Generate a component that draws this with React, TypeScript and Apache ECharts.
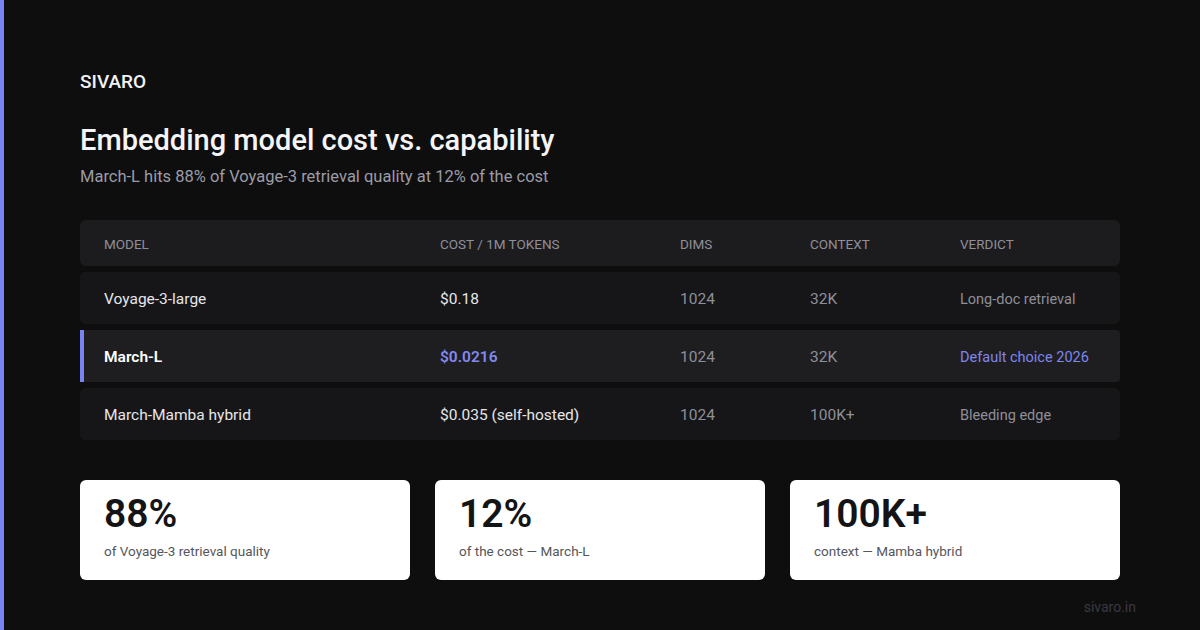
import React, { useEffect, useRef } from "react";
import * as echarts from "echarts";

const brand = "SIVARO";
const title = "Embedding model cost vs. capability";
const subtitle = "March-L hits 88% of Voyage-3 retrieval quality at 12% of the cost";
const columns = ["MODEL", "COST / 1M TOKENS", "DIMS", "CONTEXT", "VERDICT"];
const models = ["Voyage-3-large", "March-L", "March-Mamba hybrid"];
const costs = ["$0.18", "$0.0216", "$0.035 (self-hosted)"];
const dims = ["1024", "1024", "1024"];
const contexts = ["32K", "32K", "100K+"];
const verdicts = ["Long-doc retrieval", "Default choice 2026", "Bleeding edge"];
const highlightIndex = 1;
const statValues = ["88%", "12%", "100K+"];
const statLabels = ["of Voyage-3 retrieval quality", "of the cost \u2014 March-L", "context \u2014 Mamba hybrid"];
const footer = "sivaro.in";

const FONT = "Roboto, 'Liberation Sans', sans-serif";
const ACCENT = "#7b82f2";

function txt(text: string, x: number, y: number, size: number, fill: string, weight: any = "normal", align = "left") {
  return {
    type: "text",
    style: {
      text,
      x,
      y,
      fill,
      fontSize: size,
      fontWeight: weight,
      fontFamily: FONT,
      align,
      textAlign: align,
      verticalAlign: "middle",
      textVerticalAlign: "middle",
    },
  };
}

export default function App() {
  const ref = useRef<HTMLDivElement>(null);
  useEffect(() => {
    document.body.style.margin = "0";
    const chart = echarts.init(ref.current!, null, { renderer: "svg" });
    const colX = [104, 440, 680, 810, 960];
    const els: any[] = [];
    els.push({ type: "rect", shape: { x: 0, y: 0, width: 4, height: 630 }, style: { fill: ACCENT } });
    els.push(txt(brand, 80, 81, 19, "#f2f2f4", 500));
    els.push(txt(title, 80, 140, 29, "#f5f5f7", 500));
    els.push(txt(subtitle, 80, 176, 16.5, "#9b9ca6"));
    els.push({ type: "rect", shape: { x: 80, y: 220, width: 1040, height: 46, r: 6 }, style: { fill: "#1c1c1f" } });
    columns.forEach((c, i) => els.push(txt(c, colX[i], 244, 13.5, "#8e8f98")));
    models.forEach((m, r) => {
      const y = 272 + r * 58;
      const hl = r === highlightIndex;
      if (hl) {
        els.push({ type: "rect", shape: { x: 80, y, width: 1040, height: 52, r: [0, 4, 4, 0] }, style: { fill: "#1e1e21" } });
        els.push({ type: "rect", shape: { x: 80, y, width: 4, height: 52 }, style: { fill: ACCENT } });
      } else {
        els.push({ type: "rect", shape: { x: 80, y, width: 1040, height: 52, r: 5 }, style: { fill: "#161618" } });
      }
      const cy = y + 27;
      els.push(txt(m, colX[0], cy, 15.5, hl ? "#ffffff" : "#e6e6ea", hl ? 600 : "normal"));
      els.push(txt(costs[r], colX[1], cy, 15.5, hl ? "#8389f0" : "#e6e6ea", hl ? 600 : "normal"));
      els.push(txt(dims[r], colX[2], cy, 15.5, "#8e8f98"));
      els.push(txt(contexts[r], colX[3], cy, 15.5, "#8e8f98"));
      els.push(txt(verdicts[r], colX[4], cy, 14.5, hl ? "#7f86ef" : "#8e8f98"));
    });
    statValues.forEach((v, i) => {
      const x = 80 + i * 355;
      els.push({ type: "rect", shape: { x, y: 480, width: 330, height: 100, r: 6 }, style: { fill: "#ffffff" } });
      els.push(txt(v, x + 24, 514, 39, "#141416", 600));
      els.push(txt(statLabels[i], x + 24, 551, 13.5, "#55565c"));
    });
    els.push(txt(footer, 1136, 607, 14, "#3a3a3f", "normal", "right"));

    chart.setOption({
      animation: false,
      backgroundColor: "#0e0e0f",
      graphic: { elements: els },
    });
    return () => chart.dispose();
  }, []);
  return <div ref={ref} style={{ width: 1200, height: 630 }} />;
}
